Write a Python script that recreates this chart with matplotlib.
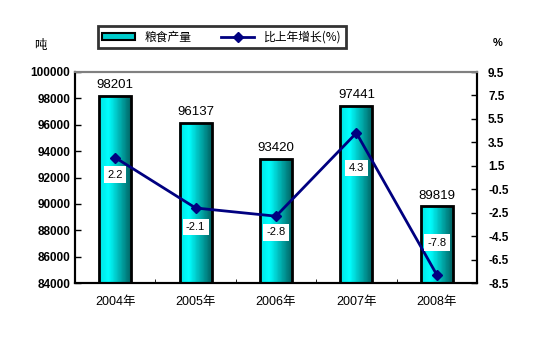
import matplotlib
matplotlib.use("Agg")
import matplotlib.pyplot as plt
import numpy as np
from matplotlib.colors import LinearSegmentedColormap
from matplotlib.patches import Patch
from matplotlib.lines import Line2D

plt.rcParams['font.family'] = ['Liberation Sans', 'Noto Sans CJK SC', 'DejaVu Sans']

categories = ['2004年', '2005年', '2006年', '2007年', '2008年']
output = [98201, 96137, 93420, 97441, 89819]
growth = [2.2, -2.1, -2.8, 4.3, -7.8]
left_ticks = [84000, 86000, 88000, 90000, 92000, 94000, 96000, 98000, 100000]
right_ticks = [9.5, 7.5, 5.5, 3.5, 1.5, -0.5, -2.5, -4.5, -6.5, -8.5]

fig = plt.figure(figsize=(5.36, 3.5), dpi=100)
ax = fig.add_axes([75/536, 1-283/350, (477-75)/536, (283-72)/350])
ax2 = ax.twinx()

x = np.arange(len(categories))
bars = ax.bar(x, np.array(output) - 84000, bottom=84000, width=0.4,
              facecolor='none', edgecolor='black', linewidth=2, zorder=3)
# horizontal gradient fill (left bright cyan -> right dark teal), drawn as thin strips
grad_colors = LinearSegmentedColormap.from_list('c', [(0, '#00E4E4'), (0.3, '#00FFFF'), (1, '#006464')])
n_strips = 40
for b in bars:
    x0, w = b.get_x(), b.get_width()
    y0, h = b.get_y(), b.get_height()
    edges = np.linspace(x0, x0 + w, n_strips + 1)
    for i in range(n_strips):
        ax.fill_between([edges[i], edges[i + 1]], y0, y0 + h,
                        color=grad_colors((i + 0.5) / n_strips), linewidth=0.3,
                        edgecolor=grad_colors((i + 0.5) / n_strips), zorder=2)
for xi, v in zip(x, output):
    ax.text(xi, v + 350, str(v), ha='center', va='bottom', fontsize=9.5)

ax.set_xlim(-0.5, len(categories) - 0.5)
ax.set_ylim(84000, 100000)
ax.set_yticks(left_ticks)
ax.set_yticklabels([str(t) for t in left_ticks], fontsize=8.5, fontweight='bold')
ax.set_xticks(x)
ax.set_xticklabels(categories, fontsize=9, family=['Liberation Sans', 'Noto Sans CJK SC'])
ax.tick_params(axis='x', length=0, pad=9)
ax.set_xticks(np.arange(0.5, len(categories) - 0.5, 1), minor=True)
ax.tick_params(axis='x', which='minor', direction='in', length=3)
ax.tick_params(axis='y', direction='in', length=4, width=1)

ax2.plot(x, growth, color='#000080', linewidth=2, marker='D', markersize=5, zorder=5)
label_offsets_px = [-17, -19, -16, -35, 32]
for xi, g, off in zip(x, growth, label_offsets_px):
    ax2.annotate(f'{g}', (xi, g), xytext=(0, off * 0.72), textcoords='offset points',
                 ha='center', va='center', fontsize=8,
                 bbox=dict(facecolor='white', edgecolor='none', pad=2.5), zorder=6)
ax2.set_ylim(-8.5, 9.5)
ax2.set_yticks(right_ticks)
ax2.set_yticklabels([str(t) for t in right_ticks], fontsize=8.5, fontweight='bold')
ax2.tick_params(axis='y', direction='in', length=4, width=1, pad=8)

for a in (ax, ax2):
    a.spines['top'].set_color('#808080')
    a.spines['top'].set_linewidth(1.5)
    a.spines['left'].set_linewidth(1.5)
    a.spines['right'].set_linewidth(1.5)
    a.spines['bottom'].set_linewidth(1.5)

fig.text(40/536, 1-45/350, '吨', ha='center', va='center', fontsize=9, family=['Noto Sans CJK SC'])
fig.text(498/536, 1-43/350, '%', ha='center', va='center', fontsize=8, fontweight='bold')

handles = [Patch(facecolor='#00CCCC', edgecolor='black', linewidth=1.5),
           Line2D([0], [0], color='#000080', linewidth=2, marker='D', markersize=5)]
leg = fig.legend(handles, ['粮食产量', '比上年增长(%)'], ncol=2, loc='center',
                 bbox_to_anchor=(222/536, 1-37/350), frameon=True,
                 fancybox=False, handlelength=2.8, handleheight=0.6, columnspacing=2.5,
                 borderpad=0.35, prop={'family': ['Noto Sans CJK SC'], 'size': 8.5})
leg.get_frame().set_edgecolor('black')
leg.get_frame().set_linewidth(2)

fig.savefig('out.png', dpi=100)
